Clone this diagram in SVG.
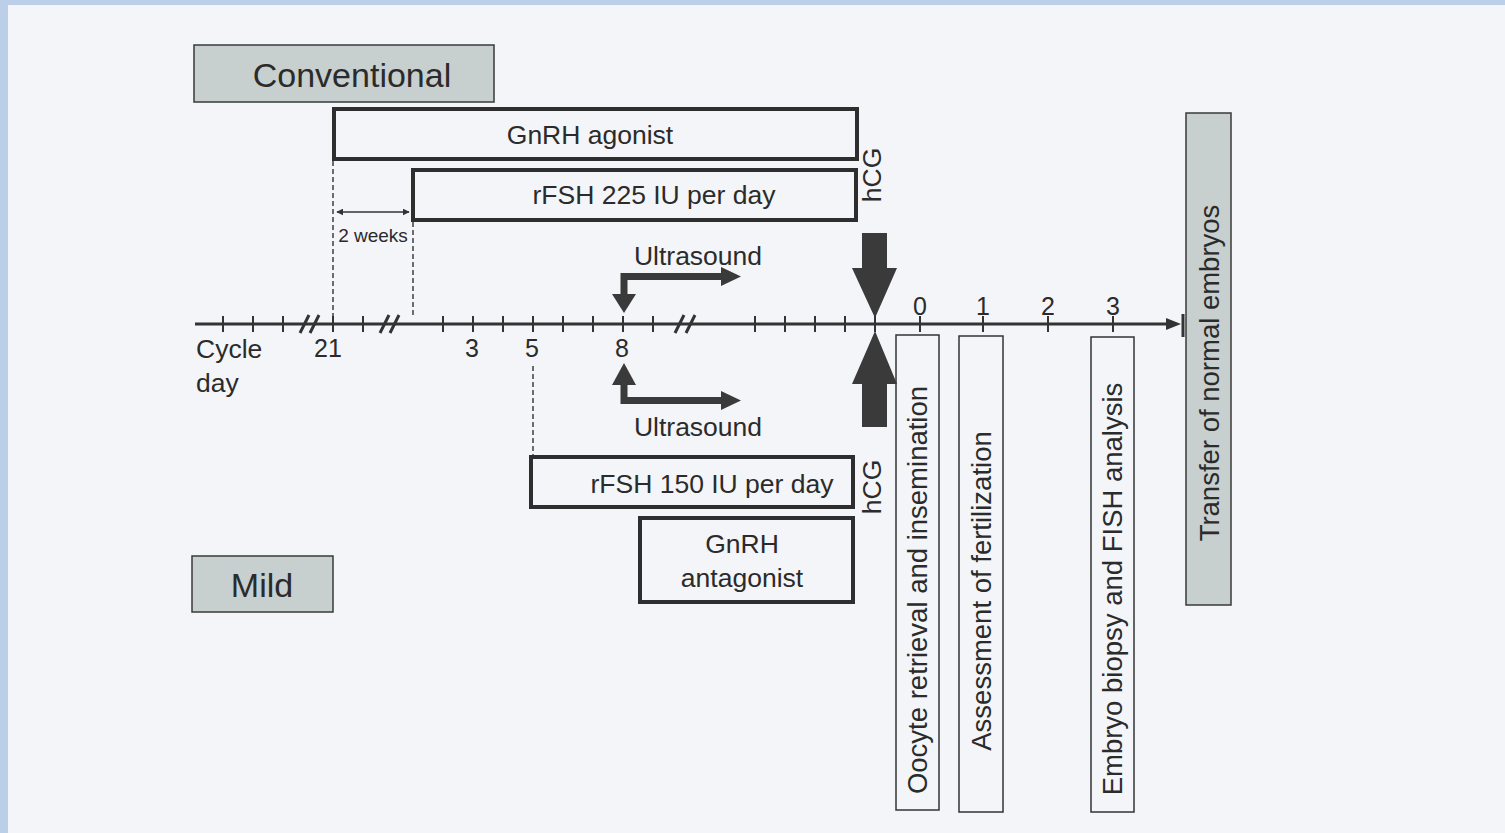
<svg xmlns="http://www.w3.org/2000/svg" width="1505" height="833" viewBox="0 0 1505 833">
<defs>
<style>
text{font-family:"Liberation Sans",Arial,sans-serif;fill:#2b2b2b}
.lbl{font-size:34px}
.t{font-size:26.5px}
.v{font-size:27.5px}
.num{font-size:25px}
.thick{fill:none;stroke:#2e2e2e;stroke-width:4}
.thin{fill:none;stroke:#333;stroke-width:1.5}
.gray{fill:#c8cfcf;stroke:#3a3a3a;stroke-width:1.5}
.dash{stroke:#333;stroke-width:1.4;stroke-dasharray:5 3;fill:none}
.ax{stroke:#333;stroke-width:3;fill:none}
.tk{stroke:#333;stroke-width:2;fill:none}
.fillk{fill:#3a3a3a;stroke:none}
.arr{stroke:#3a3a3a;stroke-width:7;fill:none;stroke-linejoin:miter}
</style>
<marker id="sa" viewBox="0 0 10 10" refX="9" refY="5" markerWidth="7" markerHeight="7" orient="auto-start-reverse" markerUnits="userSpaceOnUse"><path d="M0,0 L10,5 L0,10 z" fill="#333"/></marker>
</defs>
<rect x="0" y="0" width="1505" height="833" fill="#bccfe9"/>
<rect x="8" y="5" width="1497" height="828" fill="#f3f5f8"/>

<g id="conventional"><rect class="gray" x="194" y="45" width="300" height="57"/><text class="lbl" x="352" y="87" text-anchor="middle">Conventional</text></g>
<g id="mild"><rect class="gray" x="192" y="556" width="141" height="56"/><text class="lbl" x="262" y="597" text-anchor="middle">Mild</text></g>

<g id="gnrh-agonist"><rect class="thick" x="334" y="109" width="523" height="50"/><text class="t" x="590" y="144" text-anchor="middle">GnRH agonist</text></g>
<g id="rfsh225"><rect class="thick" x="413" y="170" width="443" height="50"/><text class="t" x="654" y="204" text-anchor="middle">rFSH 225 IU per day</text></g>
<g id="hcg-top"><text class="t" transform="translate(881,175) rotate(-90)" text-anchor="middle">hCG</text></g>

<g id="rfsh150"><rect class="thick" x="531" y="457" width="322" height="50"/><text class="t" x="712" y="493" text-anchor="middle">rFSH 150 IU per day</text></g>
<g id="gnrh-antagonist"><rect class="thick" x="640" y="518" width="213" height="84"/><text class="t" x="742" y="553" text-anchor="middle">GnRH</text><text class="t" x="742" y="587" text-anchor="middle">antagonist</text></g>
<g id="hcg-bottom"><text class="t" transform="translate(881,487) rotate(-90)" text-anchor="middle">hCG</text></g>

<g id="oocyte"><rect class="thin" x="896" y="335" width="43" height="475"/><text class="v" transform="translate(927,590) rotate(-90)" text-anchor="middle">Oocyte retrieval and insemination</text></g>
<g id="assessment"><rect class="thin" x="959" y="336" width="44" height="476"/><text class="v" transform="translate(991,591) rotate(-90)" text-anchor="middle">Assessment of fertilization</text></g>
<g id="biopsy"><rect class="thin" x="1091" y="337" width="43" height="475"/><text class="v" transform="translate(1122,589) rotate(-90)" text-anchor="middle">Embryo biopsy and FISH analysis</text></g>
<g id="transfer"><rect class="gray" x="1186" y="113" width="45" height="492"/><text class="v" transform="translate(1219,373) rotate(-90)" text-anchor="middle">Transfer of normal embryos</text></g>

<g id="axis">
<line class="ax" x1="195" y1="324" x2="1170" y2="324"/>
<polygon points="1166,318 1181,324 1166,330" fill="#333"/>
<line class="ax" x1="1183" y1="314" x2="1183" y2="337"/>
<path class="tk" d="M223,316V332 M253,316V332 M283,316V332 M333,316V332 M363,316V332 M443,316V332 M473,316V332 M503,316V332 M533,316V332 M563,316V332 M593,316V332 M623,316V332 M653,316V332 M755,316V332 M785,316V332 M815,316V332 M845,316V332 M875,316V332 M920,316V332 M983,316V332 M1048,316V332 M1113,316V332"/>
<path class="ax" d="M300,333 L309,315 M310,333 L319,315 M380,333 L389,315 M390,333 L399,315 M675,333 L684,315 M686,333 L695,315"/>
<text class="t" x="196" y="358">Cycle</text>
<text class="t" x="196" y="392">day</text>
<text class="num" x="328" y="357" text-anchor="middle">21</text>
<text class="num" x="472" y="357" text-anchor="middle">3</text>
<text class="num" x="532" y="357" text-anchor="middle">5</text>
<text class="num" x="622" y="357" text-anchor="middle">8</text>
<text class="num" x="920" y="315" text-anchor="middle">0</text>
<text class="num" x="983" y="315" text-anchor="middle">1</text>
<text class="num" x="1048" y="315" text-anchor="middle">2</text>
<text class="num" x="1113" y="315" text-anchor="middle">3</text>
</g>

<g id="connectors">
<line class="dash" x1="333" y1="161" x2="333" y2="318"/>
<line class="dash" x1="413" y1="222" x2="413" y2="318"/>
<line class="dash" x1="533" y1="366" x2="533" y2="456"/>
<line x1="337" y1="212" x2="409" y2="212" stroke="#333" stroke-width="1.5" marker-start="url(#sa)" marker-end="url(#sa)"/>
<text x="373" y="242" text-anchor="middle" style="font-size:19px">2 weeks</text>
<polygon class="fillk" points="862,233 887,233 887,268 897,268 875,318 852,268 862,268"/>
<polygon class="fillk" points="875,331 897,384 887,384 887,427 862,427 862,384 852,384"/>
<path class="arr" d="M624,296 V276.5 H724"/>
<polygon class="fillk" points="612,294 636,294 624,313"/>
<polygon class="fillk" points="721,267 741,276.5 721,286"/>
<text class="t" x="698" y="265" text-anchor="middle">Ultrasound</text>
<path class="arr" d="M624,382 V400.5 H724"/>
<polygon class="fillk" points="612,385 636,385 624,363"/>
<polygon class="fillk" points="721,391 741,400.5 721,410"/>
<text class="t" x="698" y="436" text-anchor="middle">Ultrasound</text>
</g>
</svg>
